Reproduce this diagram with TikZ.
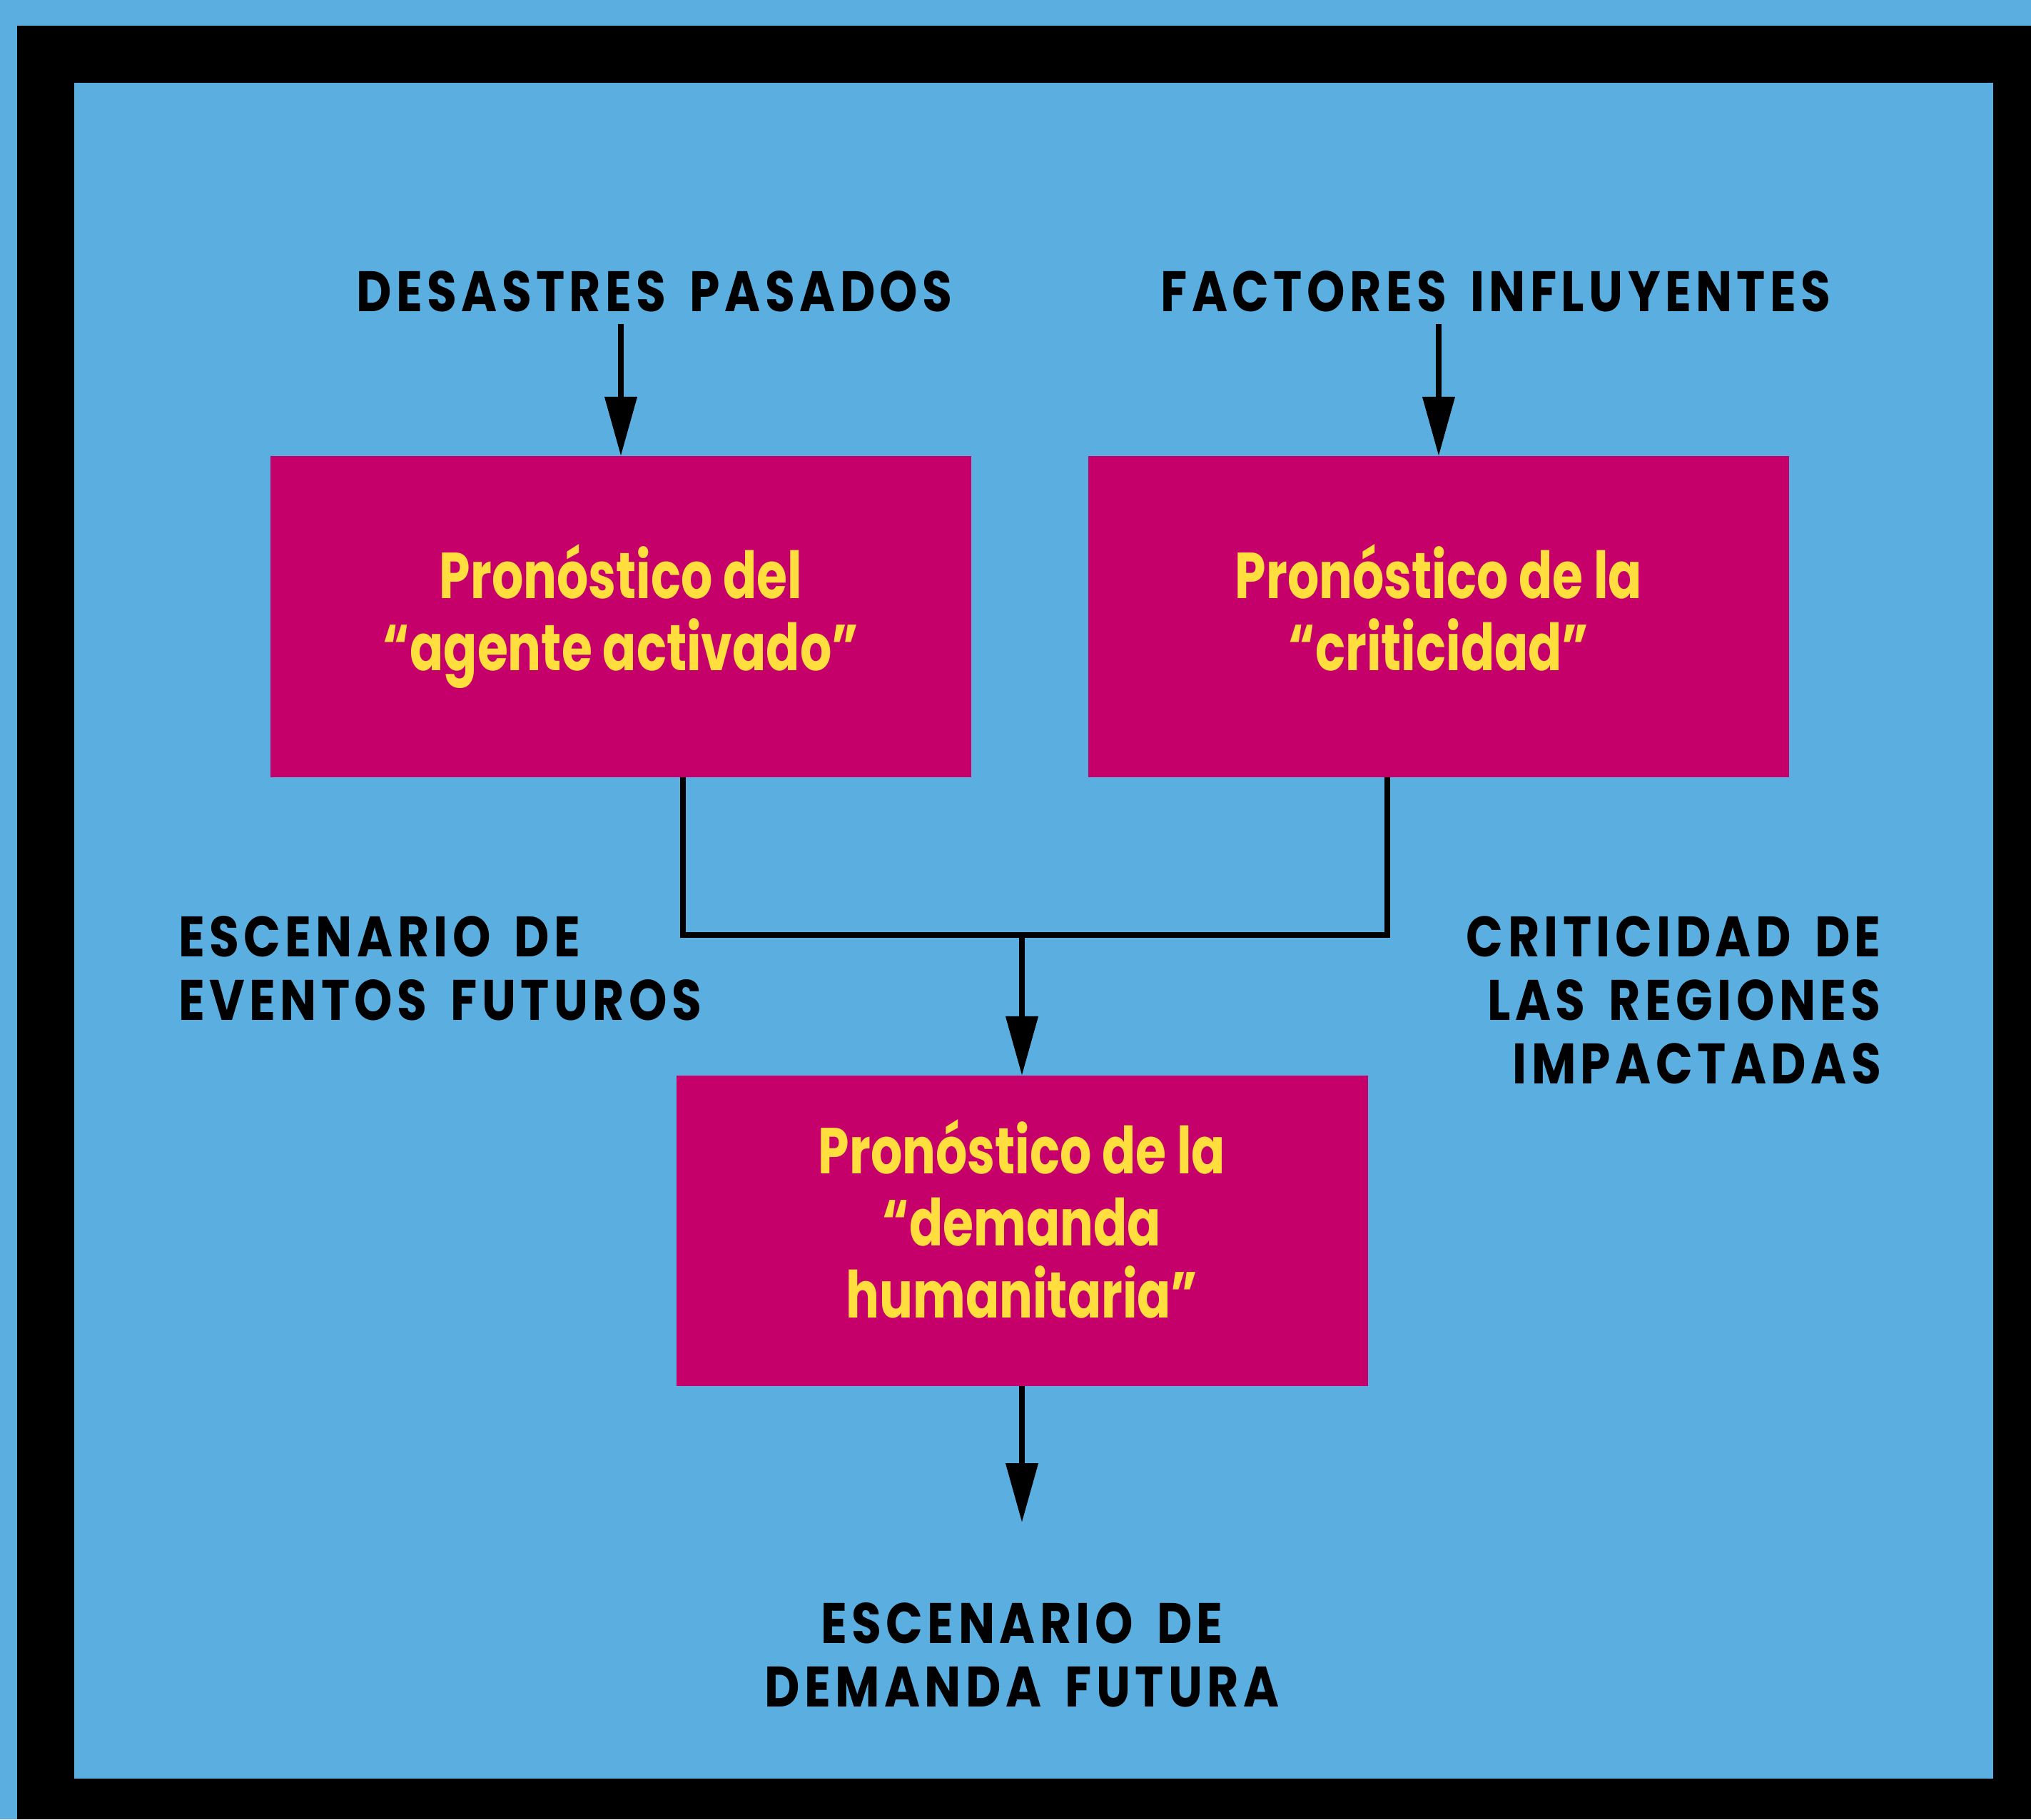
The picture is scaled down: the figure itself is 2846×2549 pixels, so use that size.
\documentclass[tikz,border=0pt]{standalone}
\usepackage{fontspec}
\setmainfont{Poppins}
\newfontfamily\lblfont{Poppins}[LetterSpace=8,FakeStretch=0.85,WordSpace=1.6]
\newfontfamily\boxfont{Poppins}[FakeStretch=0.765]
\usetikzlibrary{arrows.meta}
\definecolor{bgblue}{HTML}{5AAFE0}
\definecolor{boxmag}{HTML}{C6006B}
\definecolor{txtyel}{HTML}{FFDE3E}
\begin{document}
\begin{tikzpicture}[x=1pt,y=-1pt,
  pbox/.style={fill=boxmag, inner sep=0pt, text=txtyel, align=center,
    font=\boxfont\bfseries\fontsize{91}{101}\selectfont},
  lbl/.style={font=\lblfont\bfseries\fontsize{80}{89}\selectfont, inner sep=0pt, text=black},
  conn/.style={draw=black, line width=7.5pt, line join=miter},
  arr/.style={conn, -{Triangle[length=83pt,width=44pt]}}]
\fill[bgblue] (0,0) rectangle (2846,2549);
\fill[black] (24,36) rectangle (2846,2549);
\fill[bgblue] (104,116) rectangle (2793,2492);
\useasboundingbox (0,0) rectangle (2846,2549);

\node[pbox, minimum width=982pt, minimum height=450pt] (b1) at (870,864) {Pronóstico del\\“agente activado”};
\node[pbox, minimum width=982pt, minimum height=450pt] (b2) at (2016,864) {Pronóstico de la\\“criticidad”\vphantom{g}};
\node[pbox, minimum width=969pt, minimum height=435pt] (b3) at (1432,1724.5) {Pronóstico de la\\“demanda\\humanitaria”\vphantom{g}\rule[-34pt]{0pt}{1pt}};

\node[lbl, anchor=base] (desastres) at (917,436) {DESASTRES PASADOS};
\node[lbl, anchor=base] (factores) at (2096,436) {FACTORES INFLUYENTES};

\node[lbl, anchor=base west] (esc1) at (250,1340) {ESCENARIO DE};
\node[lbl, anchor=base west] (esc2) at (250,1429) {EVENTOS FUTUROS};

\node[lbl, anchor=base east] (cri1) at (2636,1340) {CRITICIDAD DE};
\node[lbl, anchor=base east] (cri2) at (2636,1429) {LAS REGIONES};
\node[lbl, anchor=base east] (cri3) at (2636,1518) {IMPACTADAS};

\node[lbl, anchor=base] (dem1) at (1432,2302) {ESCENARIO DE};
\node[lbl, anchor=base] (dem2) at (1432,2391) {DEMANDA FUTURA};

\coordinate (j) at (1432,1310);
\coordinate (out) at (1432,2133);

\draw[arr] ([yshift=-17pt]b1.north |- desastres.south) -- (b1.north);
\draw[arr] ([yshift=-17pt]b2.north |- factores.south) -- (b2.north);
\draw[conn] ([xshift=87pt]b1.south) |- (j) -| ([xshift=-72pt]b2.south);
\draw[arr] (j) -- (b3.north);
\draw[arr] (b3.south) -- (out);
\end{tikzpicture}
\end{document}
